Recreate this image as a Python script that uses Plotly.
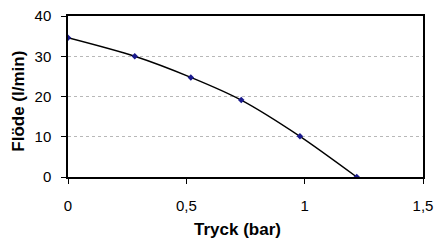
import plotly.graph_objects as go

pressure = [0.0, 0.282, 0.519, 0.732, 0.98, 1.22]
flow = [34.6, 30.0, 24.75, 19.1, 10.1, 0.0]

x_ticks = [0, 0.5, 1, 1.5]
x_labels = ["0", "0,5", "1", "1,5"]
y_ticks = [0, 10, 20, 30, 40]
y_labels = ["0", "10", "20", "30", "40"]
x_title = "Tryck (bar)"
y_title = "Flöde (l/min)"

fig = go.Figure()
fig.add_trace(go.Scatter(
    x=pressure, y=flow, mode="lines+markers",
    line=dict(color="black", width=1.4, shape="spline", smoothing=0.8),
    marker=dict(symbol="diamond", size=5, color="#1a1a8c"),
    showlegend=False,
))

font = "Liberation Sans, Arial, sans-serif"
fig.update_layout(
    width=436, height=240,
    margin=dict(l=68, r=13, t=16, b=63),
    paper_bgcolor="white", plot_bgcolor="white",
    font=dict(family=font, size=15, color="black"),
    xaxis=dict(
        range=[0, 1.5], tickvals=x_ticks, ticktext=x_labels,
        showgrid=False, zeroline=False, automargin=False,
        showline=True, linecolor="black", linewidth=1.5, mirror=True,
        ticks="outside", ticklen=5, tickcolor="black", ticklabelstandoff=9,
    ),
    yaxis=dict(
        range=[0, 40], tickvals=y_ticks, ticktext=y_labels,
        showgrid=True, gridcolor="#b8b8b8", griddash="dot", gridwidth=1,
        zeroline=False, automargin=False,
        showline=True, linecolor="black", linewidth=1.5, mirror=True,
        ticks="outside", ticklen=5, tickcolor="black", ticklabelstandoff=7,
    ),
    annotations=[
        dict(text="<b>" + x_title + "</b>", xref="paper", yref="paper",
             x=(237 - 68) / 355, y=-(229 - 177) / 161,
             xanchor="center", yanchor="middle", showarrow=False,
             font=dict(size=17)),
        dict(text="<b>" + y_title + "</b>", xref="paper", yref="paper",
             x=-(68 - 17.7) / 355, y=(177 - 101) / 161,
             xanchor="center", yanchor="middle", showarrow=False,
             textangle=-90, font=dict(size=17)),
    ],
)
fig.write_html("out.html", config={"displayModeBar": False},
               post_script="document.body.style.margin='0';")
